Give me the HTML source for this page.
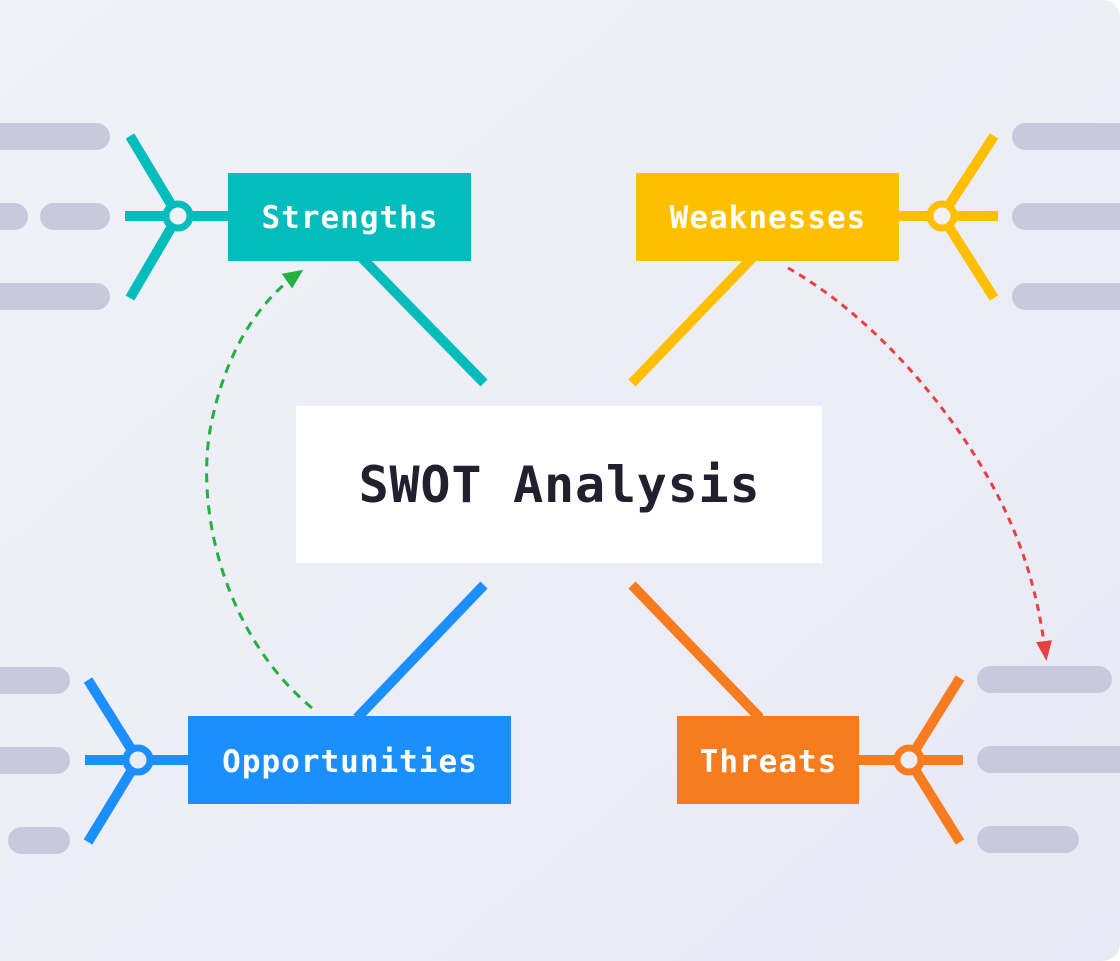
<!DOCTYPE html>
<html><head><meta charset="utf-8"><style>
html,body{margin:0;padding:0;background:#fff;}
svg{display:block;}
.lbl{font-family:"DejaVu Sans Mono","Liberation Mono",monospace;font-weight:bold;font-size:31px;fill:#fff;letter-spacing:1px;}
</style></head><body>
<svg width="1120" height="961" viewBox="0 0 1120 961" xmlns="http://www.w3.org/2000/svg">
<defs>
<linearGradient id="bg" x1="0" y1="0" x2="1" y2="1">
<stop offset="0" stop-color="#f1f1f8"/><stop offset="1" stop-color="#e9e9f5"/>
</linearGradient>
<marker id="ag" markerWidth="20" markerHeight="18" refX="16" refY="9" orient="auto" markerUnits="userSpaceOnUse" viewBox="0 0 20 18"><path d="M0,0 L20,9 L0,18 z" fill="#22b040"/></marker>
<marker id="ar" markerWidth="20" markerHeight="16" refX="16" refY="8" orient="auto" markerUnits="userSpaceOnUse" viewBox="0 0 20 16"><path d="M0,0 L20,8 L0,16 z" fill="#e84040"/></marker>
</defs>
<path d="M0 0 H1100 Q1120 0 1120 20 V941 Q1120 961 1100 961 H0 Z" fill="url(#bg)"/>
<g fill="#c9c9de">
<rect x="-20" y="123" width="130" height="27" rx="13.5"/>
<rect x="40" y="203" width="70" height="27" rx="13.5"/>
<rect x="-20" y="203" width="48" height="27" rx="13.5"/>
<rect x="-20" y="283" width="130" height="27" rx="13.5"/>
<rect x="1012" y="123" width="130" height="27" rx="13.5"/>
<rect x="1012" y="203" width="130" height="27" rx="13.5"/>
<rect x="1012" y="283" width="130" height="27" rx="13.5"/>
<rect x="-20" y="667" width="90" height="27" rx="13.5"/>
<rect x="-20" y="747" width="90" height="27" rx="13.5"/>
<rect x="8" y="827" width="62" height="27" rx="13.5"/>
<rect x="977" y="666" width="135" height="27" rx="13.5"/>
<rect x="977" y="746" width="160" height="27" rx="13.5"/>
<rect x="977" y="826" width="102" height="27" rx="13.5"/>
</g>
<g stroke-width="10" fill="none">
<path d="M362 258 L484 383" stroke="#03bdbd"/>
<path d="M125 216 H228 M178 216 L130 136 M178 216 L130 298" stroke="#03bdbd"/>
<path d="M752 258 L632 383" stroke="#fdbf00"/>
<path d="M899 216 H998 M942 216 L994 136 M942 216 L994 298" stroke="#fdbf00"/>
<path d="M357 718 L484 585" stroke="#1b8ffc"/>
<path d="M85 760 H188 M138 760 L88 680 M138 760 L88 842" stroke="#1b8ffc"/>
<path d="M760 718 L632 585" stroke="#f77c1f"/>
<path d="M859 760 H963 M909 760 L960 678 M909 760 L960 842" stroke="#f77c1f"/>
</g>
<circle cx="178" cy="216" r="12" fill="#f0f0f7" stroke="#03bdbd" stroke-width="7"/>
<circle cx="942" cy="216" r="12" fill="#f0f0f7" stroke="#fdbf00" stroke-width="7"/>
<circle cx="138" cy="760" r="12" fill="#ececf6" stroke="#1b8ffc" stroke-width="7"/>
<circle cx="909" cy="760" r="12" fill="#ececf6" stroke="#f77c1f" stroke-width="7"/>
<rect x="228" y="173" width="243" height="88" fill="#03bdbd"/>
<rect x="636" y="173" width="263" height="88" fill="#fdbf00"/>
<rect x="188" y="716" width="323" height="88" fill="#1b8ffc"/>
<rect x="677" y="716" width="182" height="88" fill="#f77c1f"/>
<text class="lbl" x="350" y="228" text-anchor="middle">Strengths</text>
<text class="lbl" x="768" y="228" text-anchor="middle">Weaknesses</text>
<text class="lbl" x="350" y="772" text-anchor="middle">Opportunities</text>
<text class="lbl" x="768.5" y="772" text-anchor="middle">Threats</text>
<rect x="296" y="406" width="526" height="157" fill="#fff"/>
<text x="559.5" y="502" text-anchor="middle" style="font-family:'DejaVu Sans Mono','Liberation Mono',monospace;font-weight:bold;font-size:50px;fill:#21202f;letter-spacing:0.8px;">SWOT Analysis</text>
<path d="M312 708 C230 640 195 520 210 430 C225 350 260 300 300 272" fill="none" stroke="#22b040" stroke-width="3" stroke-dasharray="9 7" marker-end="url(#ag)"/>
<path d="M788 268 C880 320 960 420 1000 500 C1030 560 1040 610 1046 657" fill="none" stroke="#e84040" stroke-width="3" stroke-dasharray="7 6" marker-end="url(#ar)"/>
</svg>
</body></html>
